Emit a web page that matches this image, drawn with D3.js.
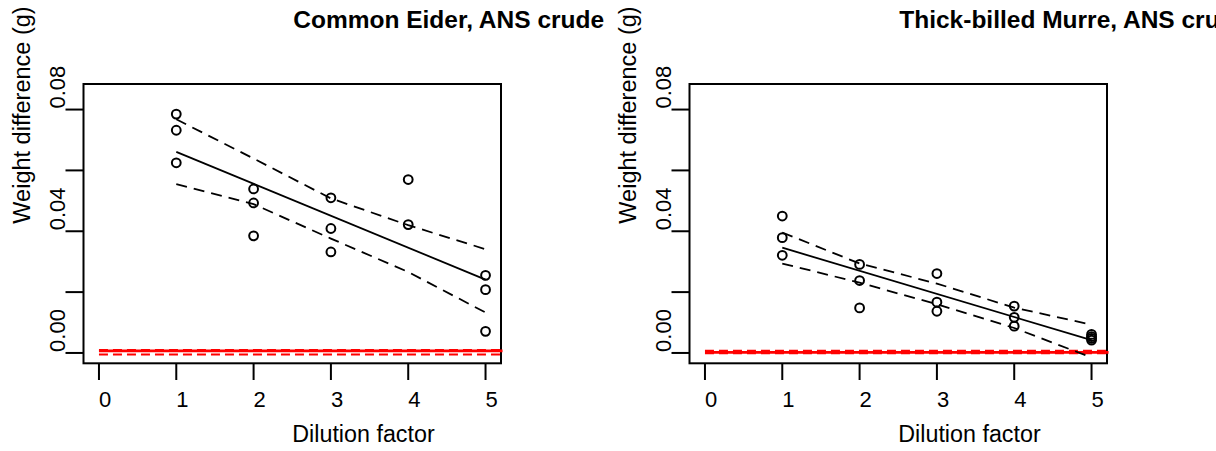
<!DOCTYPE html>
<html>
<head>
<meta charset="utf-8">
<script src="https://cdn.jsdelivr.net/npm/d3@7"></script>
<style>
  body { margin: 0; background: #fff; }
  text { font-family: "Liberation Sans", Arial, sans-serif; fill: #000; }
</style>
</head>
<body>
<div class="chart"></div>
<script>
// dilution steps used for the fitted line and the confidence bands
const doses = [1, 2, 3, 4, 5];
const xTicks = [0, 1, 2, 3, 4, 5];
const yTicks = [0, 0.02, 0.04, 0.06, 0.08];
const yTickLabels = ["0.00", "", "0.04", "", "0.08"];

// Common Eider
const eiderX = [1, 1, 1, 2, 2, 2, 3, 3, 3, 4, 4, 5, 5, 5];
const eiderY = [0.0785, 0.0732, 0.0625, 0.0539, 0.0493, 0.0385, 0.0510, 0.0409, 0.0332,
  0.0570, 0.0422, 0.0255, 0.0208, 0.0071];
const eiderFit = [0.0661, 0.0241];   // at dose 1 and 5
const eiderUpper = [0.0768, 0.0639, 0.0508, 0.0420, 0.0341];
const eiderLower = [0.0555, 0.0489, 0.0376, 0.0266, 0.0133];
const eiderControl = [0.0007, 0.0010, -0.0005]; // mean, upper, lower

// Thick-billed Murre
const murreX = [1, 1, 1, 2, 2, 2, 3, 3, 3, 4, 4, 4, 5, 5, 5, 5];
const murreY = [0.0450, 0.0379, 0.0321, 0.0291, 0.0238, 0.0148, 0.0261, 0.0167, 0.0137,
  0.0154, 0.0117, 0.0088, 0.0061, 0.0054, 0.0048, 0.0042];
const murreFit = [0.0346, 0.0042];
const murreUpper = [0.0396, 0.0294, 0.0228, 0.0149, 0.0093];
const murreLower = [0.0294, 0.0231, 0.0160, 0.0082, -0.0015];
const murreControl = [0.0002, 0.0007, -0.0001];

const titles = ["Common Eider, ANS crude", "Thick-billed Murre, ANS crude"];

var width = 1216, height = 451;

const svg = d3.select(".chart")
  .append("svg")
  .attr("width", width)
  .attr("height", height);

svg.append("rect").attr("width", width).attr("height", height).attr("fill", "#fff");

var panels = [
  { dx: 0, title: titles[0], px: eiderX, py: eiderY, fit: eiderFit, up: eiderUpper, lo: eiderLower, ctrl: eiderControl },
  { dx: 606, title: titles[1], px: murreX, py: murreY, fit: murreFit, up: murreUpper, lo: murreLower, ctrl: murreControl }
];

panels.forEach(function (p) {
  var x = d3.scaleLinear().domain([-0.2, 5.2]).range([83.5 + p.dx, 501 + p.dx]);
  var y = d3.scaleLinear().domain([-0.0034, 0.0884]).range([363.3, 84]);
  var g = svg.append("g");

  //plot box
  g.append("rect")
    .attr("x", x(-0.2)).attr("y", y(0.0884))
    .attr("width", x(5.2) - x(-0.2)).attr("height", y(-0.0034) - y(0.0884))
    .attr("fill", "none").attr("stroke", "#000").attr("stroke-width", 2);

  //y ticks
  g.selectAll(".yt").data(yTicks).enter().append("line")
    .attr("x1", x(-0.2) - 18).attr("x2", x(-0.2))
    .attr("y1", (d) => y(d)).attr("y2", (d) => y(d))
    .attr("stroke", "#000").attr("stroke-width", 2);

  g.selectAll(".yl").data(yTicks).enter().append("text")
    .attr("transform", (d) => "translate(" + (x(-0.2) - 19) + "," + (y(d) - 1) + ") rotate(-90)")
    .attr("font-size", 22)
    .text((d, i) => yTickLabels[i]);

  //x ticks
  g.selectAll(".xt").data(xTicks).enter().append("line")
    .attr("x1", (d) => x(d)).attr("x2", (d) => x(d))
    .attr("y1", 364).attr("y2", 380)
    .attr("stroke", "#000").attr("stroke-width", 2);

  g.selectAll(".xl").data(xTicks).enter().append("text")
    .attr("x", (d) => x(d)).attr("y", 406.5)
    .attr("font-size", 22)
    .text((d) => d);

  //axis titles
  var cx = (x(-0.2) + x(5.2)) / 2;
  g.append("text").attr("x", cx).attr("y", 441.5)
    .attr("font-size", 23.3).text("Dilution factor");
  g.append("text")
    .attr("transform", "translate(" + (30 + p.dx) + "," + (y(-0.0034) + y(0.0884)) / 2 + ") rotate(-90)")
    .attr("font-size", 23.5).text("Weight difference (g)");

  g.append("text").attr("x", cx + 1).attr("y", 28)
    .attr("font-size", 24.5).attr("font-weight", "bold").text(p.title);

  //control mean and limits
  var ctrlLine = (v) => [[0, v], [5.22, v]];
  var line = d3.line().x((d) => x(d[0])).y((d) => y(d[1]));
  g.append("path").attr("d", line(ctrlLine(p.ctrl[0])))
    .attr("stroke", "#ff0000").attr("stroke-width", 2.7).attr("fill", "none");
  [p.ctrl[1], p.ctrl[2]].forEach(function (v) {
    g.append("path").attr("d", line(ctrlLine(v)))
      .attr("stroke", "#ff0000").attr("stroke-width", 2).attr("fill", "none")
      .attr("stroke-dasharray", "9,5");
  });

  //regression and confidence band
  g.append("path").attr("d", line([[1, p.fit[0]], [5, p.fit[1]]]))
    .attr("stroke", "#000").attr("stroke-width", 1.8).attr("fill", "none");
  [p.up, p.lo].forEach(function (band) {
    g.append("path").attr("d", line(doses.map((d, i) => [d, band[i]])))
      .attr("stroke", "#000").attr("stroke-width", 1.8).attr("fill", "none")
      .attr("stroke-dasharray", "11,7");
  });

  //points
  g.selectAll("circle").data(p.py).enter().append("circle")
    .attr("cx", (d, i) => x(p.px[i]))
    .attr("cy", (d) => y(d))
    .attr("r", 4.4)
    .attr("fill", "none").attr("stroke", "#000").attr("stroke-width", 2);
});
</script>
</body>
</html>
